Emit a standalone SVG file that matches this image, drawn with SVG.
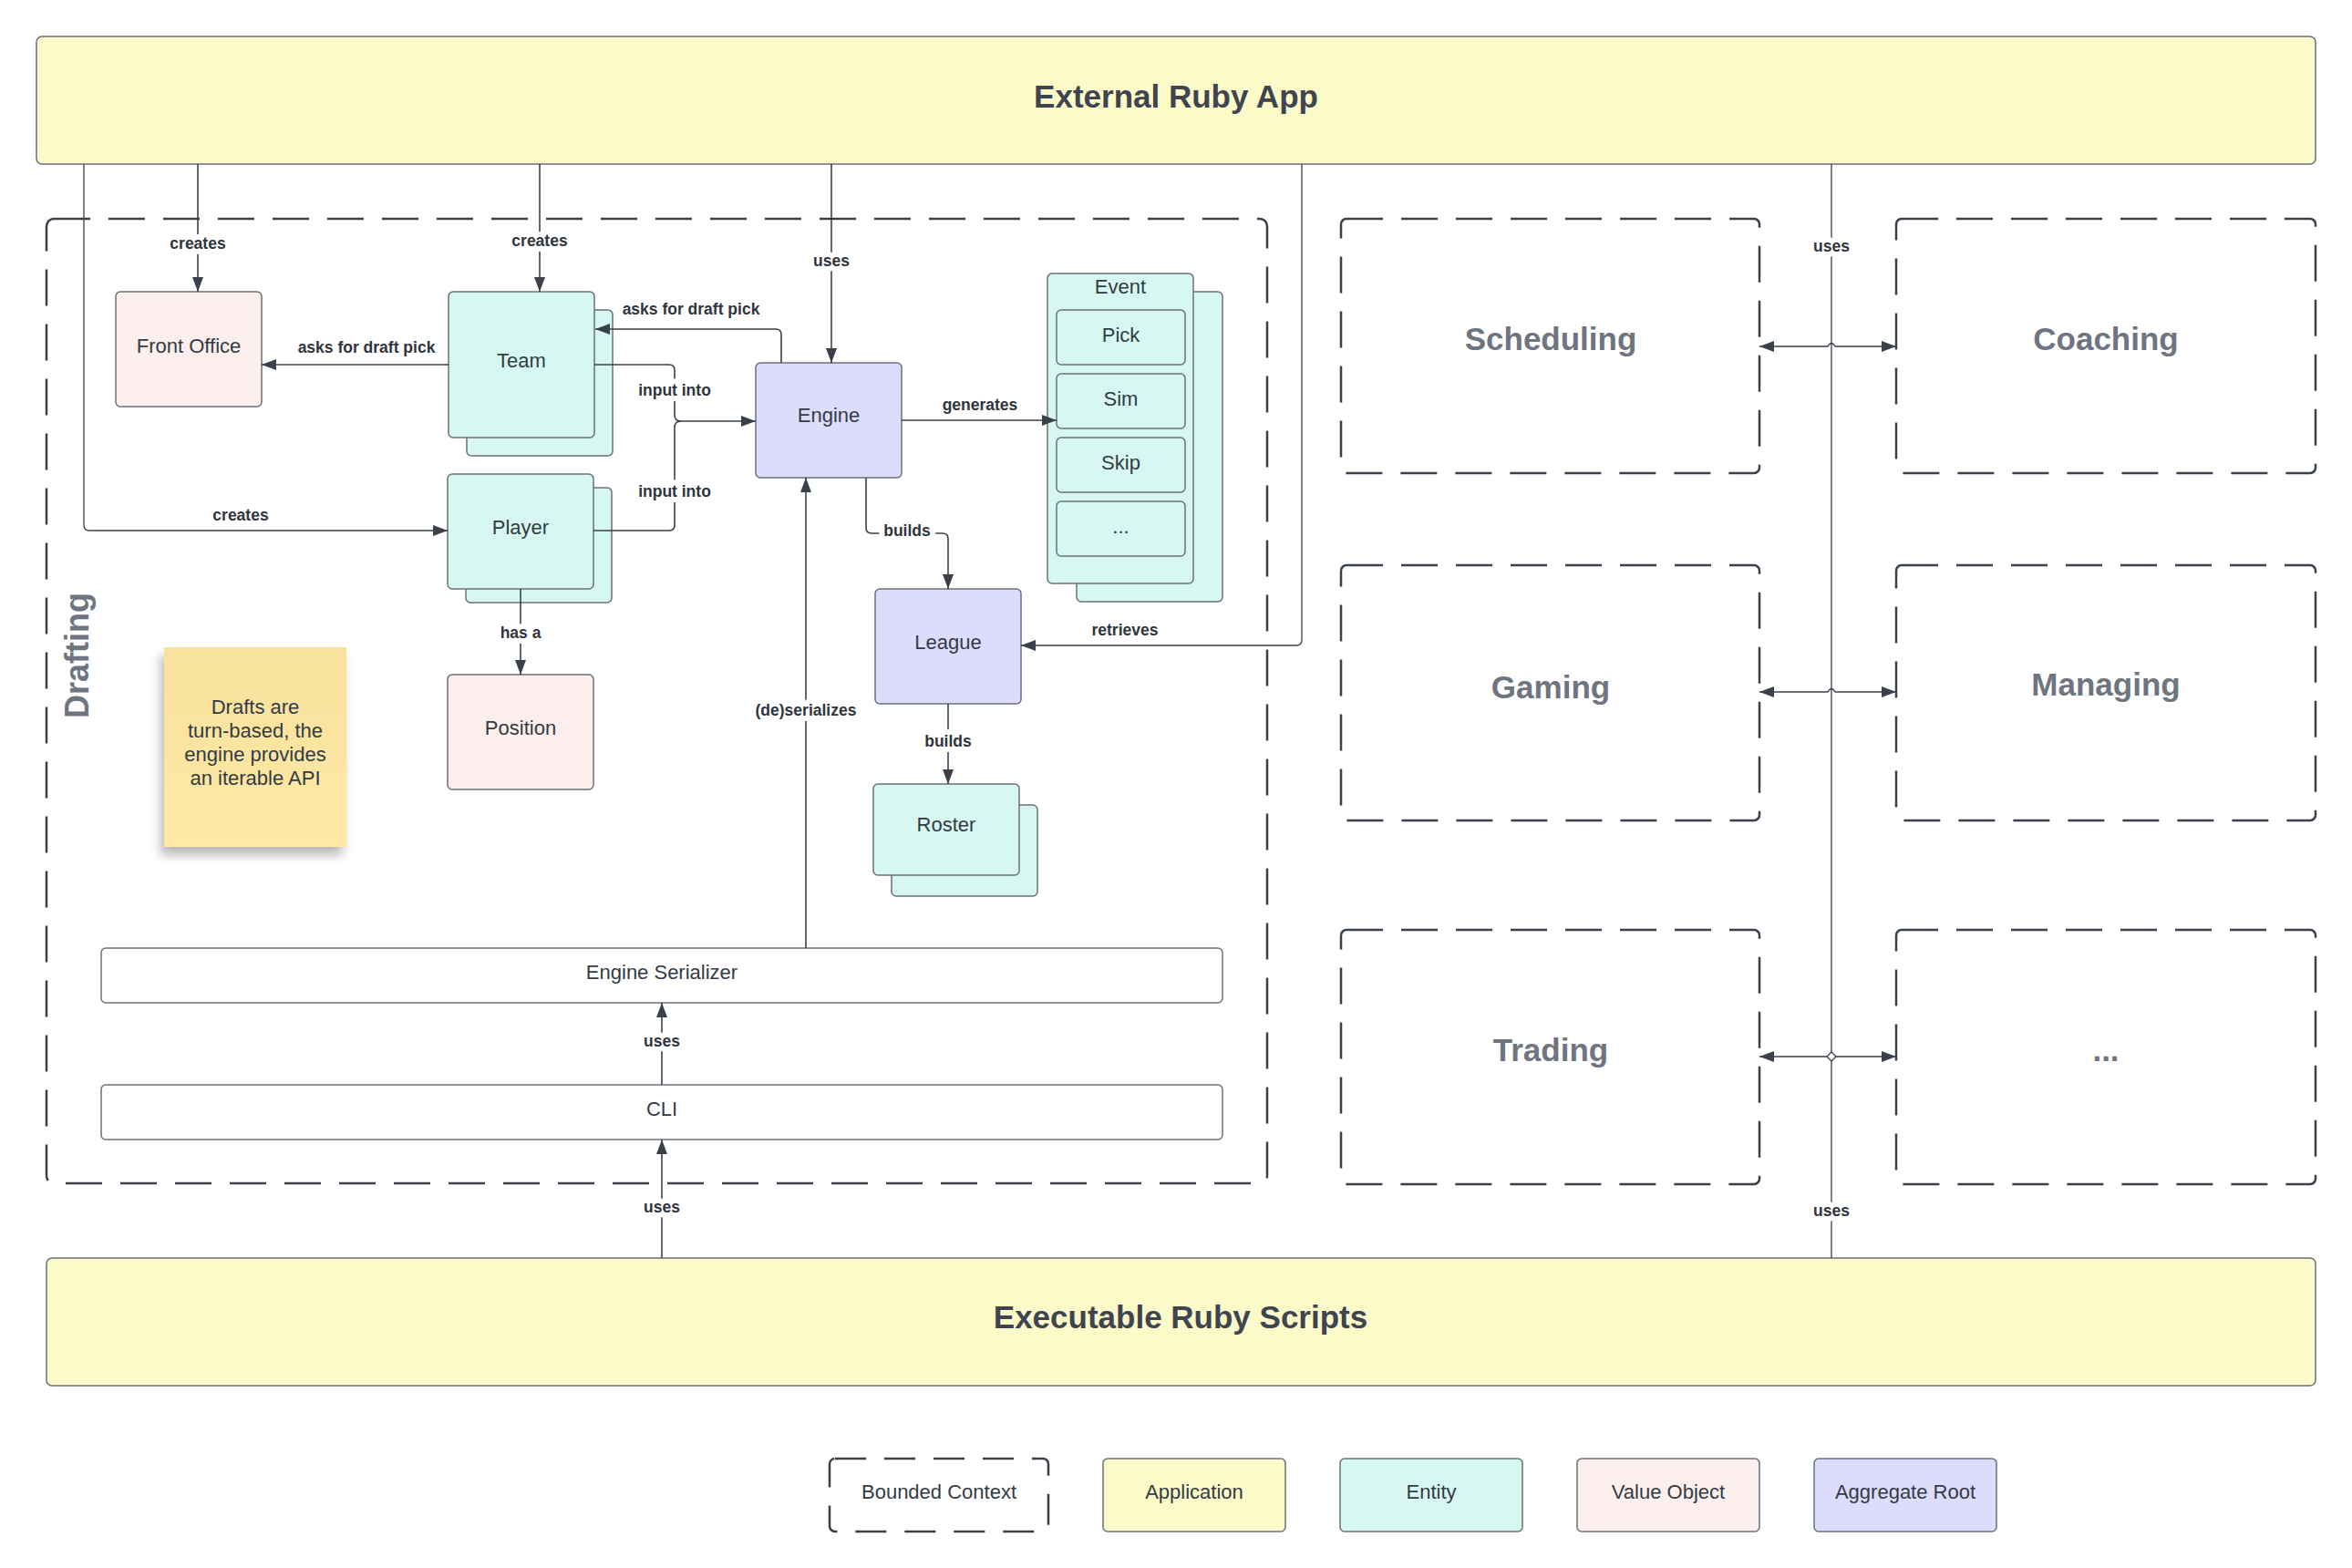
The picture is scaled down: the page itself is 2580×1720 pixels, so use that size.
<svg xmlns="http://www.w3.org/2000/svg" width="2580" height="1720" viewBox="0 0 2580 1720">
<defs>
<style>
.n{stroke:#6c7079;stroke-width:1.5}
.app{fill:#fcfac8}
.ent{fill:#d6f8f1}
.vo{fill:#fdefee}
.agg{fill:#dedcfc}
.pl{fill:#ffffff}
.bc{fill:none;stroke:#3a414a;stroke-width:2.5;stroke-dasharray:40 20}
text{font-family:"Liberation Sans",Arial,sans-serif}
.lbl{font-size:22px;fill:#333b45;text-anchor:middle}
.big{font-size:35px;font-weight:bold;fill:#3e4450;text-anchor:middle}
.ctx{font-size:35px;font-weight:bold;fill:#6f7580;text-anchor:middle}
.conn path{fill:none;stroke:#3a414a;stroke-width:1.6}
.conn path.thin{stroke-width:1.3}
.cl{font-size:17.5px;font-weight:bold;fill:#2f353d;text-anchor:middle;paint-order:stroke;stroke:#ffffff;stroke-width:12px;stroke-linejoin:round}
</style>
<marker id="ah" markerUnits="userSpaceOnUse" markerWidth="16" markerHeight="12" refX="16" refY="6" orient="auto-start-reverse">
<path d="M0,0 L16,6 L0,12 z" fill="#3a414a"/>
</marker>
<linearGradient id="stk" x1="0" y1="0" x2="0" y2="1">
<stop offset="0" stop-color="#f8e19b"/>
<stop offset="1" stop-color="#fee9a6"/>
</linearGradient>
<filter id="sh" x="-30%" y="-20%" width="160%" height="150%">
<feDropShadow dx="-4" dy="9" stdDeviation="6" flood-color="#000000" flood-opacity="0.28"/>
</filter>
</defs>
<rect width="2580" height="1720" fill="#ffffff"/>

<g id="external-ruby-app">
<rect class="n app" x="40" y="40" width="2500" height="140" rx="6"/>
<text class="big" x="1290" y="118">External Ruby App</text>
</g>

<g id="executable-ruby-scripts">
<rect class="n app" x="51" y="1380" width="2489" height="140" rx="6"/>
<text class="big" x="1295" y="1457">Executable Ruby Scripts</text>
</g>

<g id="drafting">
<rect class="bc" x="51" y="240" width="1339" height="1058" rx="8"/>
<text class="ctx" transform="translate(86,719) rotate(-90)" x="0" y="11" style="font-size:36px">Drafting</text>
</g>

<g id="front-office">
<rect class="n vo" x="127" y="320" width="160" height="126" rx="5"/>
<text class="lbl" x="207" y="387">Front Office</text>
</g>

<g id="team">
<rect class="n ent" x="512" y="340" width="160" height="160" rx="5"/>
<rect class="n ent" x="492" y="320" width="160" height="160" rx="5"/>
<text class="lbl" x="572" y="403">Team</text>
</g>

<g id="player">
<rect class="n ent" x="511" y="535" width="160" height="126" rx="5"/>
<rect class="n ent" x="491" y="520" width="160" height="126" rx="5"/>
<text class="lbl" x="571" y="586">Player</text>
</g>

<g id="position">
<rect class="n vo" x="491" y="740" width="160" height="126" rx="5"/>
<text class="lbl" x="571" y="806">Position</text>
</g>

<g id="note">
<rect x="180" y="710" width="200" height="219" fill="url(#stk)" filter="url(#sh)"/>
<text class="lbl" x="280" y="783">Drafts are</text>
<text class="lbl" x="280" y="809">turn-based, the</text>
<text class="lbl" x="280" y="835">engine provides</text>
<text class="lbl" x="280" y="861">an iterable API</text>
</g>

<g id="engine">
<rect class="n agg" x="829" y="398" width="160" height="126" rx="5"/>
<text class="lbl" x="909" y="463">Engine</text>
</g>

<g id="event">
<rect class="n ent" x="1181" y="320" width="160" height="340" rx="5"/>
<rect class="n ent" x="1149" y="300" width="160" height="340" rx="5"/>
<text class="lbl" x="1229" y="322">Event</text>
<g id="event-pick"><rect class="n ent" x="1159" y="340" width="141" height="60" rx="5"/><text class="lbl" x="1229.5" y="375">Pick</text></g>
<g id="event-sim"><rect class="n ent" x="1159" y="410" width="141" height="60" rx="5"/><text class="lbl" x="1229.5" y="445">Sim</text></g>
<g id="event-skip"><rect class="n ent" x="1159" y="480" width="141" height="60" rx="5"/><text class="lbl" x="1229.5" y="515">Skip</text></g>
<g id="event-more"><rect class="n ent" x="1159" y="550" width="141" height="60" rx="5"/><text class="lbl" x="1229.5" y="585">...</text></g>
</g>

<g id="league">
<rect class="n agg" x="960" y="646" width="160" height="126" rx="5"/>
<text class="lbl" x="1040" y="712">League</text>
</g>

<g id="roster">
<rect class="n ent" x="978" y="883" width="160" height="100" rx="5"/>
<rect class="n ent" x="958" y="860" width="160" height="100" rx="5"/>
<text class="lbl" x="1038" y="912">Roster</text>
</g>

<g id="engine-serializer">
<rect class="n pl" x="111" y="1040" width="1230" height="60" rx="5"/>
<text class="lbl" x="726" y="1074">Engine Serializer</text>
</g>

<g id="cli">
<rect class="n pl" x="111" y="1190" width="1230" height="60" rx="5"/>
<text class="lbl" x="726" y="1224">CLI</text>
</g>

<g id="scheduling">
<rect class="bc" x="1471" y="240" width="459" height="279" rx="6"/>
<text class="ctx" x="1701" y="384">Scheduling</text>
</g>
<g id="coaching">
<rect class="bc" x="2080" y="240" width="460" height="279" rx="6"/>
<text class="ctx" x="2310" y="384">Coaching</text>
</g>
<g id="gaming">
<rect class="bc" x="1471" y="620" width="459" height="280" rx="6"/>
<text class="ctx" x="1701" y="766">Gaming</text>
</g>
<g id="managing">
<rect class="bc" x="2080" y="620" width="460" height="280" rx="6"/>
<text class="ctx" x="2310" y="763">Managing</text>
</g>
<g id="trading">
<rect class="bc" x="1471" y="1020" width="459" height="279" rx="6"/>
<text class="ctx" x="1701" y="1164">Trading</text>
</g>
<g id="more-contexts">
<rect class="bc" x="2080" y="1020" width="460" height="279" rx="6"/>
<text class="ctx" x="2310" y="1164">...</text>
</g>

<g id="legend">
<g id="legend-bc"><rect class="bc" x="910" y="1600" width="240" height="80" rx="6" style="stroke-dasharray:34 20"/><text class="lbl" x="1030" y="1644">Bounded Context</text></g>
<g id="legend-app"><rect class="n app" x="1210" y="1600" width="200" height="80" rx="5"/><text class="lbl" x="1310" y="1644">Application</text></g>
<g id="legend-entity"><rect class="n ent" x="1470" y="1600" width="200" height="80" rx="5"/><text class="lbl" x="1570" y="1644">Entity</text></g>
<g id="legend-vo"><rect class="n vo" x="1730" y="1600" width="200" height="80" rx="5"/><text class="lbl" x="1830" y="1644">Value Object</text></g>
<g id="legend-agg"><rect class="n agg" x="1990" y="1600" width="200" height="80" rx="5"/><text class="lbl" x="2090" y="1644">Aggregate Root</text></g>
</g>

<g id="connectors" class="conn">
<path d="M217,180 V320" marker-end="url(#ah)"/>
<path d="M592,180 V320" marker-end="url(#ah)"/>
<path class="thin" d="M92,180 V576 Q92,582 98,582 H491" marker-end="url(#ah)"/>
<path d="M912,180 V398" marker-end="url(#ah)"/>
<path d="M492,400 H287" marker-end="url(#ah)"/>
<path d="M857,398 V367 Q857,361 851,361 H653" marker-end="url(#ah)"/>
<path d="M652,400 H734 Q740,400 740,406 V455 Q740,462 747,462 H829" marker-end="url(#ah)"/>
<path d="M651,582 H734 Q740,582 740,576 V469 Q740,462 747,462"/>
<path d="M989,461 H1159" marker-end="url(#ah)"/>
<path d="M950,524 V579 Q950,585 956,585 H1034 Q1040,585 1040,591 V646" marker-end="url(#ah)"/>
<path class="thin" d="M1428,180 V702 Q1428,708 1422,708 H1120" marker-end="url(#ah)"/>
<path d="M571,646 V740" marker-end="url(#ah)"/>
<path d="M884,1040 V524" marker-end="url(#ah)"/>
<path d="M1040,772 V860" marker-end="url(#ah)"/>
<path d="M726,1190 V1100" marker-end="url(#ah)"/>
<path d="M726,1380 V1250" marker-end="url(#ah)"/>
<path class="thin" d="M2009,180 V1380"/>
<path class="thin" d="M1930,380 H2005 Q2009,373 2013,380 H2080" marker-start="url(#ah)" marker-end="url(#ah)"/>
<path class="thin" d="M1930,759 H2005 Q2009,752 2013,759 H2080" marker-start="url(#ah)" marker-end="url(#ah)"/>
<path class="thin" d="M1930,1159 H2080" marker-start="url(#ah)" marker-end="url(#ah)"/>
<path d="M2009,1154 L2014,1159 L2009,1164 L2004,1159 z" style="fill:#ffffff;stroke-width:1.3"/>
<text class="cl" x="217" y="273">creates</text>
<text class="cl" x="592" y="270">creates</text>
<text class="cl" x="264" y="571">creates</text>
<text class="cl" x="912" y="292">uses</text>
<text class="cl" x="402" y="387">asks for draft pick</text>
<text class="cl" x="758" y="345">asks for draft pick</text>
<text class="cl" x="740" y="434">input into</text>
<text class="cl" x="740" y="545">input into</text>
<text class="cl" x="1075" y="450">generates</text>
<text class="cl" x="995" y="588">builds</text>
<text class="cl" x="1234" y="697">retrieves</text>
<text class="cl" x="571" y="700">has a</text>
<text class="cl" x="884" y="785">(de)serializes</text>
<text class="cl" x="1040" y="819">builds</text>
<text class="cl" x="726" y="1148">uses</text>
<text class="cl" x="726" y="1330">uses</text>
<text class="cl" x="2009" y="276">uses</text>
<text class="cl" x="2009" y="1334">uses</text>
</g>
</svg>
